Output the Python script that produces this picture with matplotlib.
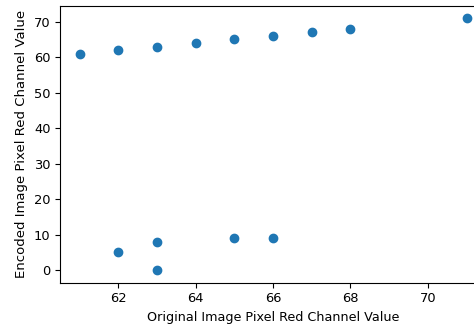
import matplotlib
matplotlib.use("Agg")
from matplotlib import pyplot as plt

original = [61, 62, 63, 64, 65, 66, 67, 68, 71, 62, 63, 63, 65, 66]
encoded = [61, 62, 63, 64, 65, 66, 67, 68, 71, 5, 8, 0, 9, 9]

plt.rcParams['font.size'] = 9.4

fig = plt.figure(figsize=(4.74, 3.28), dpi=100)
# axes run past the right edge, as in the cropped reference
ax = fig.add_axes([0.127, 0.138, 0.898, 0.845])
ax.scatter(original, encoded)
ax.set_xlabel("Original Image Pixel Red Channel Value", fontsize=9.2)
ax.set_ylabel("Encoded Image Pixel Red Channel Value", fontsize=9.5)
fig.savefig("out.png", dpi=100)
